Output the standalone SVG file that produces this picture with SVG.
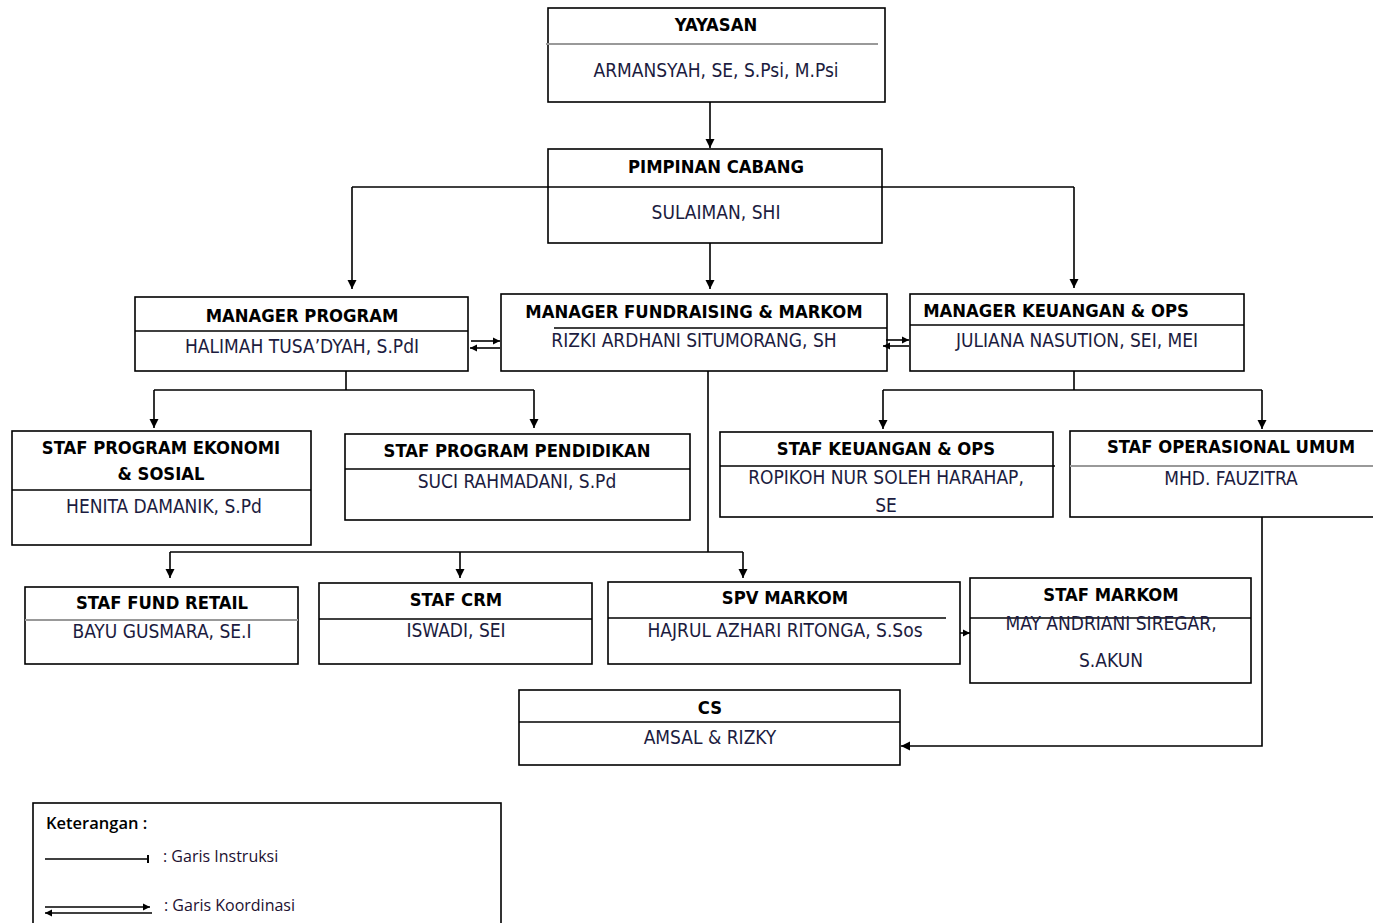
<svg xmlns="http://www.w3.org/2000/svg" width="1373" height="923" viewBox="0 0 1373 923">
<defs>
<marker id="ah" markerWidth="10" markerHeight="10" refX="9" refY="5" orient="auto" markerUnits="userSpaceOnUse">
<path d="M0,0.5 L9,5 L0,9.5 Z" fill="#000"/>
</marker>
<marker id="ahs" markerWidth="8" markerHeight="8" refX="7" refY="4" orient="auto" markerUnits="userSpaceOnUse">
<path d="M0,0.5 L7,4 L0,7.5 Z" fill="#000"/>
</marker>
<marker id="tick" markerWidth="4" markerHeight="10" refX="2" refY="5" orient="auto" markerUnits="userSpaceOnUse">
<path d="M2,1 L2,9" stroke="#000" stroke-width="2"/>
</marker>
</defs>
<style>
.box{fill:#fff;stroke:#000;stroke-width:1.6}
.div{stroke:#000;stroke-width:1.4}
.gdiv{stroke:#999;stroke-width:2}
.t{font-family:"DejaVu Sans Condensed","DejaVu Sans",sans-serif;font-weight:bold;font-size:18.3px;fill:#000;text-anchor:middle}
.n{font-family:"DejaVu Sans Condensed","DejaVu Sans",sans-serif;font-size:19px;fill:#1c1c40;text-anchor:middle}
.c{fill:none;stroke:#000;stroke-width:1.6}
.l{font-family:"Open Sans","Liberation Sans",sans-serif;font-size:16px;fill:#1c1030}
</style>
<rect width="1373" height="923" fill="#fff"/>

<g id="yayasan">
<rect class="box" x="548" y="8" width="337" height="94"/>
<line class="gdiv" x1="546" y1="44" x2="878" y2="44"/>
<text class="t" x="716" y="31">YAYASAN</text>
<text class="n" x="716" y="77">ARMANSYAH, SE, S.Psi, M.Psi</text>
</g>

<g id="pimpinan">
<rect class="box" x="548" y="149" width="334" height="94"/>
<text class="t" x="716" y="173">PIMPINAN CABANG</text>
<text class="n" x="716" y="219">SULAIMAN, SHI</text>
</g>

<g id="mgr-program">
<rect class="box" x="135" y="297" width="333" height="74"/>
<line class="div" x1="135" y1="331" x2="468" y2="331"/>
<text class="t" x="302" y="322">MANAGER PROGRAM</text>
<text class="n" x="302" y="353">HALIMAH TUSA’DYAH, S.PdI</text>
</g>

<g id="mgr-fundraising">
<rect class="box" x="501" y="294" width="386" height="77"/>
<line class="div" x1="554" y1="328" x2="887" y2="328"/>
<text class="t" x="694" y="318">MANAGER FUNDRAISING &amp; MARKOM</text>
<text class="n" x="694" y="347">RIZKI ARDHANI SITUMORANG, SH</text>
</g>

<g id="mgr-keuangan">
<rect class="box" x="910" y="294" width="334" height="77"/>
<line class="div" x1="910" y1="325" x2="1244" y2="325"/>
<text class="t" x="1056" y="317">MANAGER KEUANGAN &amp; OPS</text>
<text class="n" x="1077" y="347">JULIANA NASUTION, SEI, MEI</text>
</g>

<g id="staf-ekonomi">
<rect class="box" x="12" y="431" width="299" height="114"/>
<line class="div" x1="12" y1="490" x2="311" y2="490"/>
<text class="t" x="161" y="454">STAF PROGRAM EKONOMI</text>
<text class="t" x="161" y="480">&amp; SOSIAL</text>
<text class="n" x="164" y="513">HENITA DAMANIK, S.Pd</text>
</g>

<g id="staf-pendidikan">
<rect class="box" x="345" y="434" width="345" height="86"/>
<line class="div" x1="345" y1="469" x2="690" y2="469"/>
<text class="t" x="517" y="457">STAF PROGRAM PENDIDIKAN</text>
<text class="n" x="517" y="488">SUCI RAHMADANI, S.Pd</text>
</g>

<g id="staf-keuangan">
<rect class="box" x="720" y="432" width="333" height="85"/>
<line class="div" x1="720" y1="466" x2="1055" y2="466"/>
<text class="t" x="886" y="455">STAF KEUANGAN &amp; OPS</text>
<text class="n" x="886" y="484">ROPIKOH NUR SOLEH HARAHAP,</text>
<text class="n" x="886" y="512">SE</text>
</g>

<g id="staf-operasional">
<rect class="box" x="1070" y="431" width="306" height="86"/>
<line class="gdiv" x1="1070" y1="466" x2="1373" y2="466"/>
<text class="t" x="1231" y="453">STAF OPERASIONAL UMUM</text>
<text class="n" x="1231" y="485">MHD. FAUZITRA</text>
</g>

<g id="staf-fund-retail">
<rect class="box" x="25" y="587" width="273" height="77"/>
<line class="gdiv" x1="25" y1="620" x2="298" y2="620"/>
<text class="t" x="162" y="609">STAF FUND RETAIL</text>
<text class="n" x="162" y="638">BAYU GUSMARA, SE.I</text>
</g>

<g id="staf-crm">
<rect class="box" x="319" y="583" width="273" height="81"/>
<line class="div" x1="319" y1="619" x2="592" y2="619"/>
<text class="t" x="456" y="606">STAF CRM</text>
<text class="n" x="456" y="637">ISWADI, SEI</text>
</g>

<g id="spv-markom">
<rect class="box" x="608" y="582" width="352" height="82"/>
<line class="div" x1="608" y1="618" x2="946" y2="618"/>
<text class="t" x="785" y="604">SPV MARKOM</text>
<text class="n" x="785" y="637">HAJRUL AZHARI RITONGA, S.Sos</text>
</g>

<g id="staf-markom">
<rect class="box" x="970" y="578" width="281" height="105"/>
<line class="div" x1="970" y1="618" x2="1251" y2="618"/>
<text class="t" x="1111" y="601">STAF MARKOM</text>
<text class="n" x="1111" y="630">MAY ANDRIANI SIREGAR,</text>
<text class="n" x="1111" y="667">S.AKUN</text>
</g>

<g id="cs">
<rect class="box" x="519" y="690" width="381" height="75"/>
<line class="div" x1="519" y1="722" x2="900" y2="722"/>
<text class="t" x="710" y="714">CS</text>
<text class="n" x="710" y="744">AMSAL &amp; RIZKY</text>
</g>

<g id="connectors">
<path class="c" d="M710,102 V148" marker-end="url(#ah)"/>
<path class="c" d="M352,187 H1074"/>
<path class="c" d="M352,187 V289" marker-end="url(#ah)"/>
<path class="c" d="M1074,187 V288" marker-end="url(#ah)"/>
<path class="c" d="M710,243 V289" marker-end="url(#ah)"/>
<path class="c" d="M471,341 H500" marker-end="url(#ahs)"/>
<path class="c" d="M500,348 H470" marker-end="url(#ahs)"/>
<path class="c" d="M886,340 H909" marker-end="url(#ahs)"/>
<path class="c" d="M909,346 H883" marker-end="url(#ahs)"/>
<path class="c" d="M346,371 V390 M154,390 H534"/>
<path class="c" d="M154,390 V428" marker-end="url(#ah)"/>
<path class="c" d="M534,390 V428" marker-end="url(#ah)"/>
<path class="c" d="M708,371 V552 M170,552 H743"/>
<path class="c" d="M170,552 V578" marker-end="url(#ah)"/>
<path class="c" d="M460,552 V578" marker-end="url(#ah)"/>
<path class="c" d="M743,552 V578" marker-end="url(#ah)"/>
<path class="c" d="M960,633 H970" marker-end="url(#ahs)"/>
<path class="c" d="M1074,371 V390 M883,390 H1262"/>
<path class="c" d="M883,390 V429" marker-end="url(#ah)"/>
<path class="c" d="M1262,390 V429" marker-end="url(#ah)"/>
<path class="c" d="M1262,517 V746 H901" marker-end="url(#ah)"/>
</g>

<g id="legend">
<rect class="box" x="33" y="803" width="468" height="130"/>
<text x="46" y="829" style="font-family:'Open Sans','Liberation Sans',sans-serif;font-size:16.5px;font-weight:600;fill:#000">Keterangan :</text>
<path d="M45,859 H148" stroke="#000" stroke-width="1.5" fill="none" marker-end="url(#tick)"/>
<text class="l" x="163" y="862">: Garis Instruksi</text>
<path d="M45,907 H150" stroke="#000" stroke-width="1.3" fill="none" marker-end="url(#ahs)"/>
<path d="M152,913 H45" stroke="#000" stroke-width="1.3" fill="none" marker-end="url(#ahs)"/>
<text class="l" x="164" y="911">: Garis Koordinasi</text>
</g>
</svg>
